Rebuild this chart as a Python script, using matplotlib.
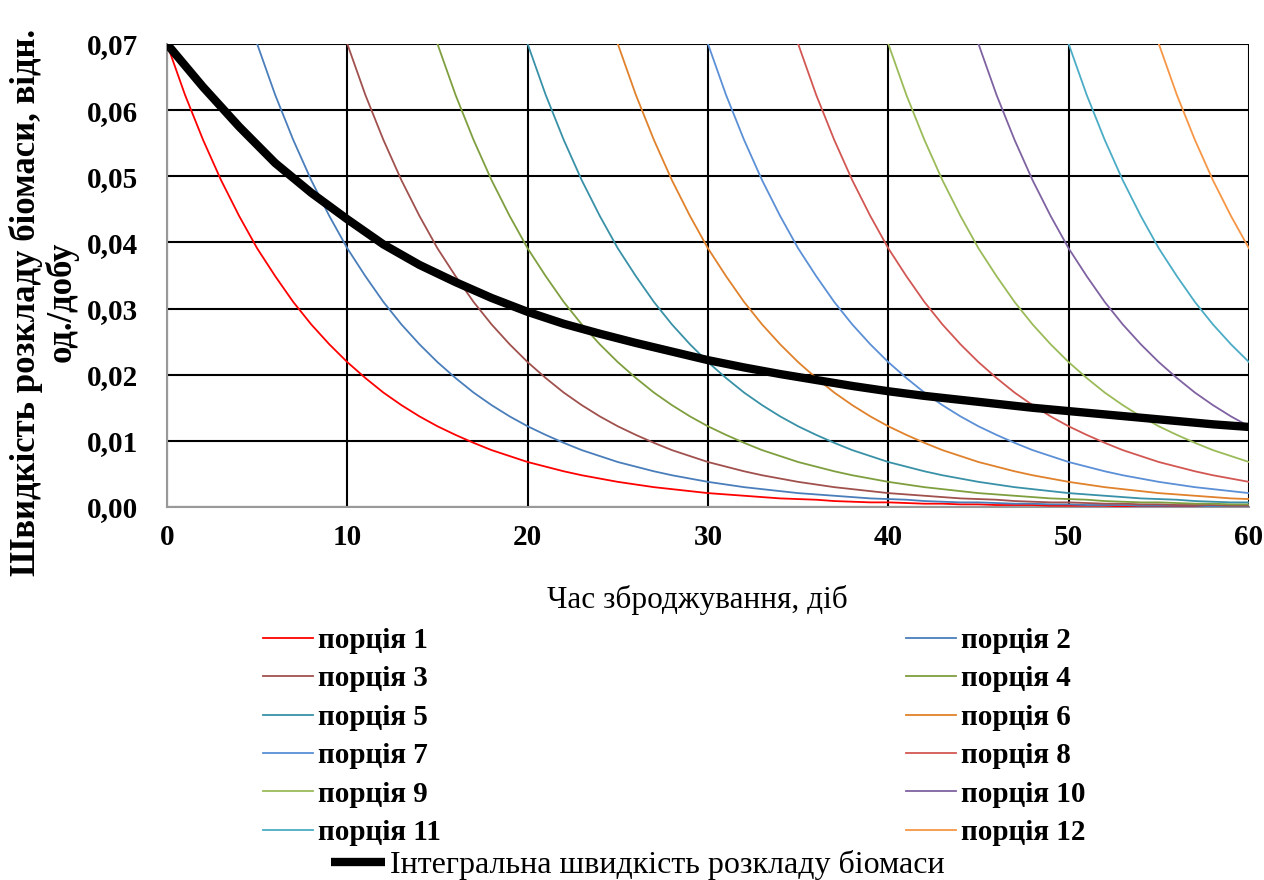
import matplotlib
matplotlib.use('Agg')
import matplotlib.pyplot as plt

plt.rcParams['font.family'] = ['Liberation Serif', 'DejaVu Serif']

# Decay profile of one portion (1-day steps after loading)
profile_days = list(range(0, 61))
decay_profile = [0.0700, 0.0623, 0.0555, 0.0494, 0.0440, 0.0391, 0.0349, 0.0310, 0.0276, 0.0246,
                 0.0219, 0.0195, 0.0173, 0.0154, 0.0137, 0.0122, 0.0109, 0.0097, 0.0086, 0.0077,
                 0.0068, 0.0061, 0.0054, 0.0048, 0.0043, 0.0038, 0.0034, 0.0030, 0.0027, 0.0024,
                 0.0021, 0.0019, 0.0017, 0.0015, 0.0013, 0.0012, 0.0011, 0.0009, 0.0008, 0.0007,
                 0.0007, 0.0006, 0.0005, 0.0005, 0.0004, 0.0004, 0.0003, 0.0003, 0.0003, 0.0002,
                 0.0002, 0.0002, 0.0002, 0.0001, 0.0001, 0.0001, 0.0001, 0.0001, 0.0001, 0.0001,
                 0.0001]

portion_starts = [0, 5, 10, 15, 20, 25, 30, 35, 40, 45, 50, 55]
portion_labels = ['порція 1', 'порція 2', 'порція 3', 'порція 4', 'порція 5', 'порція 6',
                  'порція 7', 'порція 8', 'порція 9', 'порція 10', 'порція 11', 'порція 12']
portion_colors = ['#FF0000', '#4A7EBB', '#A0504D', '#7F9F3F', '#3891A7', '#E0812B',
                  '#5B8FD6', '#D25753', '#9BBB59', '#7F62A1', '#4BACC6', '#F79646']

integral_days = [0, 2, 4, 6, 8, 10, 12, 14, 16, 18, 20, 22, 24, 26, 28, 30,
                 32, 34, 36, 38, 40, 42, 44, 46, 48, 50, 52, 54, 56, 58, 60]
integral_rate = [0.0700, 0.0635, 0.0575, 0.0520, 0.0475, 0.0435, 0.0397, 0.0366, 0.0340, 0.0316,
                 0.0295, 0.0277, 0.0262, 0.0248, 0.0235, 0.0222, 0.0211, 0.0201, 0.0192, 0.0183,
                 0.0175, 0.0168, 0.0162, 0.0156, 0.0150, 0.0145, 0.0140, 0.0135, 0.0130, 0.0125,
                 0.0121]
integral_label = 'Інтегральна швидкість розкладу біомаси'

x_ticks = [0, 10, 20, 30, 40, 50, 60]
y_ticks = [0.00, 0.01, 0.02, 0.03, 0.04, 0.05, 0.06, 0.07]

fig = plt.figure(figsize=(12.64, 8.8), dpi=100)
ax = fig.add_axes([167/1264, 1 - 507/880, (1249-167)/1264, (507-44)/880])

handles = []
for start, lab, col in zip(portion_starts, portion_labels, portion_colors):
    xs = [start + d for d in profile_days if start + d <= 60]
    ys = decay_profile[:len(xs)]
    h, = ax.plot(xs, ys, color=col, lw=1.3, label=lab, zorder=3)
    handles.append(h)

hi, = ax.plot(integral_days, integral_rate, color='black', lw=6, label=integral_label,
              zorder=4, solid_capstyle='butt', solid_joinstyle='round')

ax.set_xlim(0, 60)
ax.set_ylim(0, 0.07)
ax.set_xticks(x_ticks)
ax.set_yticks(y_ticks)
ax.set_yticklabels([f'{v:.2f}'.replace('.', ',') for v in y_ticks])
ax.set_xticklabels([str(v) for v in x_ticks])
ax.grid(True, color='black', lw=1.5, zorder=1)
ax.tick_params(axis='x', length=0, labelsize=21, pad=12)
ax.tick_params(axis='y', length=0, labelsize=21, pad=21)
for lbl in ax.get_xticklabels() + ax.get_yticklabels():
    lbl.set_fontweight('bold')
for s in ['top', 'right']:
    ax.spines[s].set_visible(False)
for s in ['left', 'bottom']:
    ax.spines[s].set_color('#999999')
    ax.spines[s].set_linewidth(1.5)
ax.set_axisbelow(True)

fig.text(697/1264, 1 - 600/880, 'Час зброджування, діб', ha='center', va='center', fontsize=22.5)
fig.text(44/1264, 1 - 302/880, 'Швидкість розкладу біомаси, відн.\nод./добу', rotation=90,
         ha='center', va='center', fontsize=25, fontweight='bold', linespacing=1.05)

leg_kw = dict(frameon=False, prop={'size': 21, 'weight': 'bold'}, handlelength=1.7,
              handletextpad=0.17, labelspacing=0.39, borderpad=0, borderaxespad=0)
left_h = handles[0::2]
right_h = handles[1::2]
fig.legend(left_h, [h.get_label() for h in left_h], loc='upper left',
           bbox_to_anchor=(263/1264, 1 - 627/880), **leg_kw)
fig.legend(right_h, [h.get_label() for h in right_h], loc='upper left',
           bbox_to_anchor=(906/1264, 1 - 627/880), **leg_kw)
fig.legend([hi], [integral_label], loc='upper left', frameon=False,
           prop={'size': 23}, handlelength=1.7, handletextpad=0.15,
           borderpad=0, borderaxespad=0,
           bbox_to_anchor=(331/1264, 1 - 850/880))

fig.savefig('out.png', dpi=100)
